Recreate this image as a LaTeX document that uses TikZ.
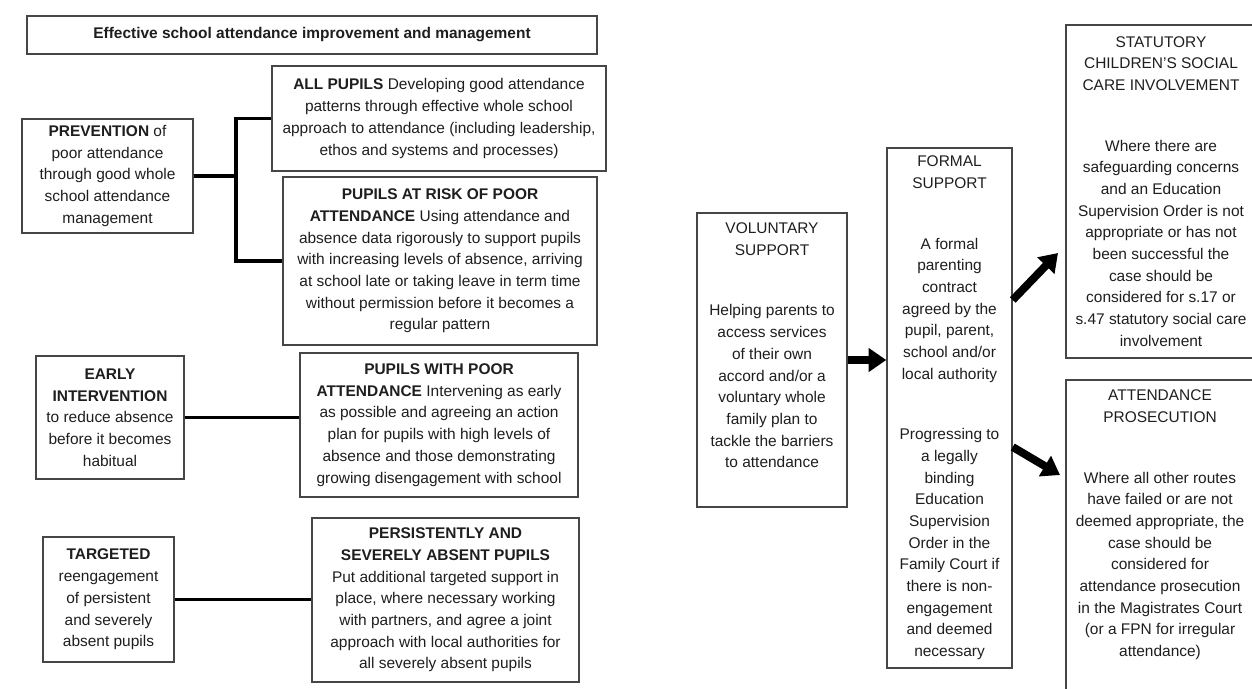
\documentclass[tikz,border=0pt]{standalone}
\usepackage{fontspec}
\setmainfont{Liberation Sans}
\usetikzlibrary{arrows.meta, calc}
\definecolor{boxgrey}{RGB}{70, 70, 70}
\definecolor{inkgrey}{RGB}{30, 30, 30}

\begin{document}
\begin{tikzpicture}[font=\fontsize{8.8}{12.35}\selectfont,
    panel/.style={draw=boxgrey, line width=0.8pt, align=center, text=inkgrey, inner sep=0pt},
    blurb/.style={align=center, text=inkgrey, inner sep=0pt},
    link/.style={line width=2.2pt},
    push/.style={line width=4.5pt, -{Triangle[length=10pt, width=13pt]}}]
  \useasboundingbox (0,0) rectangle (25.04,-13.76);

  % left: attendance management
  \node[panel, minimum width=11.4cm, minimum height=0.76cm] (title) at (6.24,-0.70)
        {\textbf{Effective school attendance improvement and management}};
  \node[panel, minimum width=6.68cm, minimum height=2.10cm] (allp) at (8.78,-2.37)
        {\textbf{ALL PUPILS} Developing good attendance\\ patterns through effective whole school\\
         approach to attendance (including leadership,\\ ethos and systems and processes)};
  \node[panel, minimum width=6.28cm, minimum height=3.36cm] (risk) at (8.80,-5.22)
        {\textbf{PUPILS AT RISK OF POOR}\\ \textbf{ATTENDANCE} Using attendance and\\
         absence data rigorously to support pupils\\ with increasing levels of absence, arriving\\
         at school late or taking leave in term time\\ without permission before it becomes a\\ regular pattern};
  \node[panel, minimum width=3.42cm, minimum height=2.28cm] (prev) at (2.15,-3.52)
        {\textbf{PREVENTION} of\\ poor attendance\\ through good whole\\ school attendance\\ management};
  \node[panel, minimum width=2.96cm, minimum height=2.46cm] (early) at (2.20,-8.35)
        {\textbf{EARLY}\\ \textbf{INTERVENTION}\\ to reduce absence\\ before it becomes\\ habitual};
  \node[panel, minimum width=5.56cm, minimum height=2.88cm] (poor) at (8.78,-8.50)
        {\textbf{PUPILS WITH POOR}\\ \textbf{ATTENDANCE} Intervening as early\\ as possible and agreeing an action\\
         plan for pupils with high levels of\\ absence and those demonstrating\\ growing disengagement with school};
  \node[panel, minimum width=2.62cm, minimum height=2.50cm] (targ) at (2.17,-11.99)
        {\textbf{TARGETED}\\ reengagement\\ of persistent\\ and severely\\ absent pupils};
  \node[panel, minimum width=5.34cm, minimum height=3.28cm] (pers) at (8.91,-12.00)
        {\textbf{PERSISTENTLY AND}\\ \textbf{SEVERELY ABSENT PUPILS}\\ Put additional targeted support in\\
         place, where necessary working\\ with partners, and agree a joint\\
         approach with local authorities for\\ all severely absent pupils};

  \coordinate (jn) at (4.72,-3.52);
  \draw[link] (prev.east) -- (jn);
  \draw[link] (allp.west) -| (jn) |- (risk.west);
  \draw[link] (early.east) -- (early.east -| poor.west);
  \draw[link] (targ.east) -- (targ.east -| pers.west);

  % right: support and escalation
  \node[panel, minimum width=3.00cm, minimum height=5.88cm] (vol) at (15.44,-7.20) {};
  \node[blurb] (volx) at (15.44,-6.91)
        {VOLUNTARY\\ SUPPORT\\[22pt] Helping parents to\\ access services\\ of their own\\ accord and/or a\\
         voluntary whole\\ family plan to\\ tackle the barriers\\ to attendance};
  \node[panel, minimum width=2.50cm, minimum height=10.40cm] (formal) at (18.99,-8.16)
        {FORMAL\\ SUPPORT\\[22pt] A formal\\ parenting\\ contract\\ agreed by the\\ pupil, parent,\\
         school and/or\\ local authority\\[22pt] Progressing to\\ a legally\\ binding\\ Education\\
         Supervision\\ Order in the\\ Family Court if\\ there is non-\\ engagement\\ and deemed\\ necessary};
  \node[panel, minimum width=3.80cm, minimum height=6.66cm] (stat) at (23.22,-3.83)
        {STATUTORY\\ CHILDREN'S SOCIAL\\ CARE INVOLVEMENT\\[22pt] Where there are\\ safeguarding concerns\\
         and an Education\\ Supervision Order is not\\ appropriate or has not\\ been successful the\\
         case should be\\ considered for s.17 or\\ s.47 statutory social care\\ involvement};
  \node[panel, minimum width=3.80cm, minimum height=6.40cm] (pros) at (23.22,-10.80) {};
  \node[blurb] (prosx) at (23.20,-10.50)
        {ATTENDANCE\\ PROSECUTION\\[22pt] Where all other routes\\ have failed or are not\\
         deemed appropriate, the\\ case should be\\ considered for\\ attendance prosecution\\
         in the Magistrates Court\\ (or a FPN for irregular\\ attendance)};

  \coordinate (upend) at (21.16,-5.06);
  \coordinate (downend) at (21.20,-9.50);
  \draw[push] (vol.east) -- (vol.east -| formal.west);
  \draw[push] ($(formal.east)+(0,2.16)$) -- (upend);
  \draw[push] ($(formal.east)+(0,-0.78)$) -- (downend);
\end{tikzpicture}
\end{document}
